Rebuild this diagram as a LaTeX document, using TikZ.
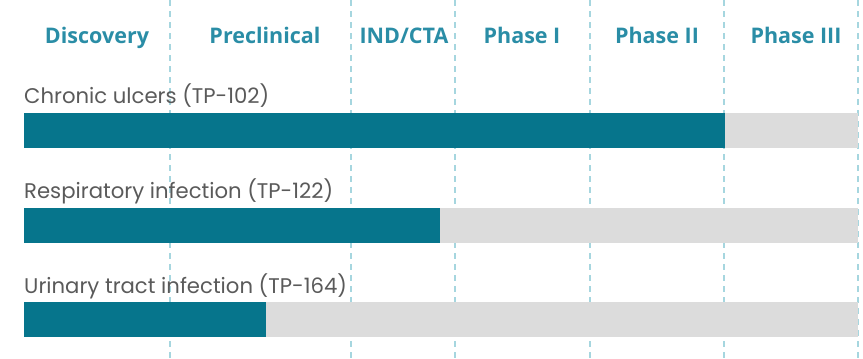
\documentclass[tikz,border=0pt]{standalone}
\usepackage{fontspec}
\setmainfont{Poppins}
\newfontfamily\headfont{Open Sans}
\usetikzlibrary{positioning}
\definecolor{pipeteal}{HTML}{06758C}
\definecolor{pipegray}{HTML}{DCDCDC}
\definecolor{pipehead}{HTML}{2A8DA6}
\definecolor{pipeline}{HTML}{A6D6DF}
\definecolor{pipetext}{HTML}{5A5A5A}
\begin{document}
\begin{tikzpicture}[x=1pt, y=-1pt,
                    head node/.style={anchor=base, text=pipehead, font=\headfont\bfseries\fontsize{21.5}{24}\selectfont, inner sep=0pt},
                    row node/.style={anchor=base west, text=pipetext, font=\fontsize{21.2}{24}\selectfont, inner sep=0pt},
                    grid line/.style={pipeline, line width=1.6pt, dash pattern=on 6pt off 5pt}]

		  \useasboundingbox (0,0) rectangle (863,359);

		  % column separators
		  \foreach \x in {170,351,455,590,724,858}
		    \draw[grid line] (\x,0) -- (\x,359);

		  % headers
		  \node[head node] (disc) at (97,43) {Discovery};
		  \node[head node] (prec) at (265,43) {Preclinical};
		  \node[head node] (ind) at (404,43) {IND/CTA};
		  \node[head node] (ph1) at (522,43) {Phase I};
		  \node[head node] (ph2) at (657,43) {Phase II};
		  \node[head node] (ph3) at (796,43) {Phase III};

		  % programmes
		  \node[row node] (ulcer) at (24,103) {Chronic ulcers (TP-102)};
		  \node[row node] (resp) at (24,198) {Respiratory infection (TP-122)};
		  \node[row node] (uti) at (24,293) {Urinary tract infection (TP-164)};

		  \foreach \y/\e in {113/725,208/440,302/266} {
		    \fill[pipegray] (24,\y) rectangle (858,\y+35);
		    \fill[pipeteal] (24,\y) rectangle (\e,\y+35);
		  }
	\end{tikzpicture}
\end{document}
